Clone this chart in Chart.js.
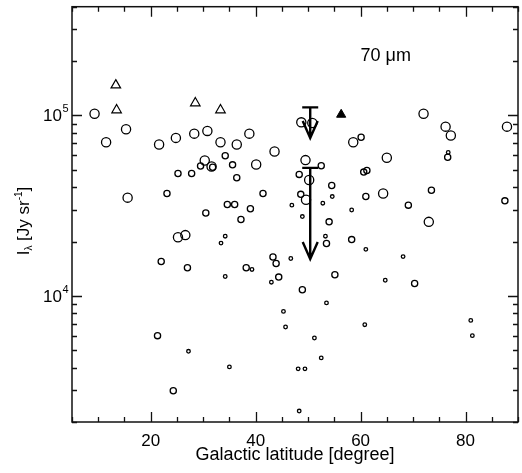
<!DOCTYPE html>
<html>
<head>
<meta charset="utf-8">
<script src="https://cdn.jsdelivr.net/npm/chart.js@4.4.1/dist/chart.umd.min.js"></script>
<style>
  html, body { margin: 0; padding: 0; background: #fff; overflow: hidden; }
  #wrap { width: 527px; height: 473px; position: relative; }
</style>
</head>
<body>
<div id="wrap"><canvas id="chart"></canvas></div>
<script>
// large circles
var largeX = [9.3, 11.5, 15.3, 15.6, 21.6, 24.8, 28.3, 30.8, 33.3, 36.4, 38.8, 43.6, 48.7, 50.8, 58.6,
              72.0, 76.2, 77.2, 87.9, 65.0, 49.5, 50.2, 49.6, 64.3, 73.0, 30.3, 31.6, 40.1, 25.2, 26.6];
var largeY = [102000, 71000, 83700, 35000, 68900, 75000, 79200, 82000, 71000, 68900, 79200, 63100, 91500, 90700, 71000,
              102000, 86600, 77300, 86600, 58200, 56500, 43800, 34100, 36900, 25700, 56200, 52100, 53400, 21100, 21700];
// medium circles
var midX = [60.1, 76.6, 52.5, 48.3, 48.6, 54.5, 54.0, 53.5, 58.3, 60.6, 61.2, 61.0, 73.5, 69.1, 70.3, 55.1, 87.5, 48.9,
            43.3, 43.9, 44.4, 38.2, 37.2, 39.0, 36.0, 34.6, 30.5, 29.5, 31.8, 34.2, 35.6, 36.4, 41.4, 27.8, 25.2, 23.1,
            22.0, 27.0, 21.3, 24.3];
var midY = [75700, 58600, 52600, 47100, 36500, 40900, 25700, 19500, 20500, 48500, 49500, 35500, 38500, 31800, 11700, 13100, 33600, 10800,
            16400, 15100, 12700, 14300, 26500, 30400, 32100, 32100, 28800, 52400, 51600, 59700, 53200, 45100, 36900, 47600, 47600, 36900,
            15500, 14300, 6020, 2980];
// small circles
var smallX = [76.7, 48.9, 46.9, 54.6, 52.8, 53.3, 58.3, 61.0, 68.1, 64.7, 81.0, 81.3, 60.8, 53.5, 45.3, 45.7, 51.2, 52.5,
              48.1, 49.4, 48.3, 43.0, 46.7, 39.3, 33.4, 34.2, 34.2, 27.2, 35.0];
var smallY = [62300, 27500, 31800, 35500, 32600, 21400, 29900, 18100, 16500, 12200, 7310, 6020, 6920, 9140, 8200, 6720, 5840, 4530,
              3940, 3940, 2300, 11900, 16100, 14000, 19600, 21400, 12800, 4930, 4040];
// triangles
var triX = [13.35, 13.5, 28.5, 33.3];
var triY = [147000, 107000, 117000, 107000];
var fillTriX = [56.3];
var fillTriY = [101000];
// upper limits
var limX = [50.4, 50.4];
var limTop = [110700, 51200];
var limTip = [75000, 16000];

var xTicks = [5,10,15,20,25,30,35,40,45,50,55,60,65,70,75,80,85,90];
var yMinor = [2000,3000,4000,5000,6000,7000,8000,9000,20000,30000,40000,50000,60000,70000,80000,90000,200000,300000,400000];
var yMajor = [10000, 100000];
var yMajorExp = ['4', '5'];

function pts(xs, ys) {
  var out = [];
  for (var i = 0; i < xs.length; i++) out.push({x: xs[i], y: ys[i]});
  return out;
}

var FONT = '"Liberation Sans", Arial, sans-serif';

var framePlugin = {
  id: 'frame',
  afterDraw: function(chart) {
    var ctx = chart.ctx, a = chart.chartArea;
    var xs = chart.scales.x, ys = chart.scales.y;
    ctx.save();
    ctx.strokeStyle = '#111';
    ctx.lineWidth = 1.5;
    ctx.strokeRect(a.left, a.top, a.right - a.left, a.bottom - a.top);

    ctx.lineWidth = 1.3;
    ctx.beginPath();
    xTicks.forEach(function(v) {
      var px = Math.round(xs.getPixelForValue(v)) + 0.5;
      var len = (v % 20 === 0) ? 10 : 5;
      ctx.moveTo(px, a.bottom); ctx.lineTo(px, a.bottom - len);
      ctx.moveTo(px, a.top); ctx.lineTo(px, a.top + len);
    });
    yMinor.forEach(function(v) {
      var py = Math.round(ys.getPixelForValue(v)) + 0.5;
      ctx.moveTo(a.left, py); ctx.lineTo(a.left + 5, py);
      ctx.moveTo(a.right, py); ctx.lineTo(a.right - 5, py);
    });
    yMajor.forEach(function(v) {
      var py = Math.round(ys.getPixelForValue(v)) + 0.5;
      ctx.moveTo(a.left, py); ctx.lineTo(a.left + 10, py);
      ctx.moveTo(a.right, py); ctx.lineTo(a.right - 10, py);
    });
    ctx.stroke();

    // y tick labels 10^n
    ctx.fillStyle = '#000';
    yMajor.forEach(function(v, i) {
      var py = ys.getPixelForValue(v);
      ctx.font = '17px ' + FONT;
      ctx.textAlign = 'right';
      ctx.textBaseline = 'middle';
      ctx.fillText('10', 62, py + 1);
      ctx.font = '11px ' + FONT;
      ctx.textAlign = 'left';
      ctx.fillText(yMajorExp[i], 62.5, py - 6);
    });

    // y axis title
    ctx.save();
    ctx.translate(29, 221);
    ctx.rotate(-Math.PI / 2);
    ctx.textBaseline = 'alphabetic';
    ctx.textAlign = 'left';
    var parts = [
      {t: 'I', f: 17, dy: 0},
      {t: '\u03bb', f: 10, dy: 3},
      {t: ' [Jy sr', f: 17, dy: 0},
      {t: '-1', f: 10, dy: -7},
      {t: ']', f: 17, dy: 0}
    ];
    var w = 0;
    parts.forEach(function(p) { ctx.font = p.f + 'px ' + FONT; w += ctx.measureText(p.t).width; });
    var cx = -w / 2;
    parts.forEach(function(p) {
      ctx.font = p.f + 'px ' + FONT;
      ctx.fillText(p.t, cx, p.dy);
      cx += ctx.measureText(p.t).width;
    });
    ctx.restore();

    // label
    ctx.font = '18px ' + FONT;
    ctx.textAlign = 'left';
    ctx.textBaseline = 'middle';
    ctx.fillText('70 \u03bcm', xs.getPixelForValue(60), ys.getPixelForValue(214000));

    // upper-limit arrows
    ctx.lineWidth = 2.4;
    ctx.strokeStyle = '#000';
    for (var i = 0; i < limX.length; i++) {
      var px = xs.getPixelForValue(limX[i]);
      var pt = ys.getPixelForValue(limTop[i]);
      var pb = ys.getPixelForValue(limTip[i]);
      ctx.beginPath();
      ctx.moveTo(px - 8, pt); ctx.lineTo(px + 8, pt);
      ctx.moveTo(px, pt); ctx.lineTo(px, pb);
      ctx.moveTo(px - 7.5, pb - 17); ctx.lineTo(px, pb); ctx.lineTo(px + 7.5, pb - 17);
      ctx.stroke();
    }
    ctx.restore();
  }
};

function circleSet(xs, ys, r) {
  return {
    data: pts(xs, ys),
    showLine: false,
    pointStyle: 'circle',
    pointRadius: r,
    pointHoverRadius: r,
    pointBorderWidth: 1.3,
    pointBorderColor: '#000',
    pointBackgroundColor: 'rgba(0,0,0,0)'
  };
}

var ctx = document.getElementById('chart');
var chart = new Chart(ctx, {
  type: 'scatter',
  data: {
    datasets: [
      circleSet(largeX, largeY, 4.6),
      circleSet(midX, midY, 3.1),
      circleSet(smallX, smallY, 1.8),
      {
        data: pts(triX, triY), showLine: false, pointStyle: 'triangle',
        pointRadius: 5.5, pointBorderWidth: 1.2, pointBorderColor: '#000',
        pointBackgroundColor: 'rgba(0,0,0,0)'
      },
      {
        data: pts(fillTriX, fillTriY), showLine: false, pointStyle: 'triangle',
        pointRadius: 5.3, pointBorderWidth: 1, pointBorderColor: '#000',
        pointBackgroundColor: '#000'
      }
    ]
  },
  options: {
    responsive: true,
    maintainAspectRatio: false,
    animation: false,
    layout: { padding: { top: 5, left: 0, right: 0, bottom: 0 } },
    plugins: { legend: { display: false }, tooltip: { enabled: false } },
    scales: {
      x: {
        type: 'linear', min: 5, max: 90,
        grid: { display: false, drawTicks: false },
        border: { display: false },
        afterFit: function(s) { s.height = 51; },
        afterBuildTicks: function(s) { s.ticks = xTicks.map(function(v) { return {value: v}; }); },
        ticks: {
          autoSkip: false, maxRotation: 0, padding: 9, color: '#000',
          font: { family: FONT, size: 17 },
          callback: function(v) { return v % 20 === 0 ? String(v) : ''; }
        },
        title: {
          display: true, text: 'Galactic latitude [degree]', color: '#000',
          font: { family: FONT, size: 18 }, padding: { top: 0, bottom: 7 }
        }
      },
      y: {
        type: 'logarithmic', min: 2000, max: 400000,
        grid: { display: false, drawTicks: false },
        border: { display: false },
        ticks: { display: false },
        afterFit: function(s) { s.width = 72; }
      }
    }
  },
  plugins: [framePlugin]
});
</script>
</body>
</html>
